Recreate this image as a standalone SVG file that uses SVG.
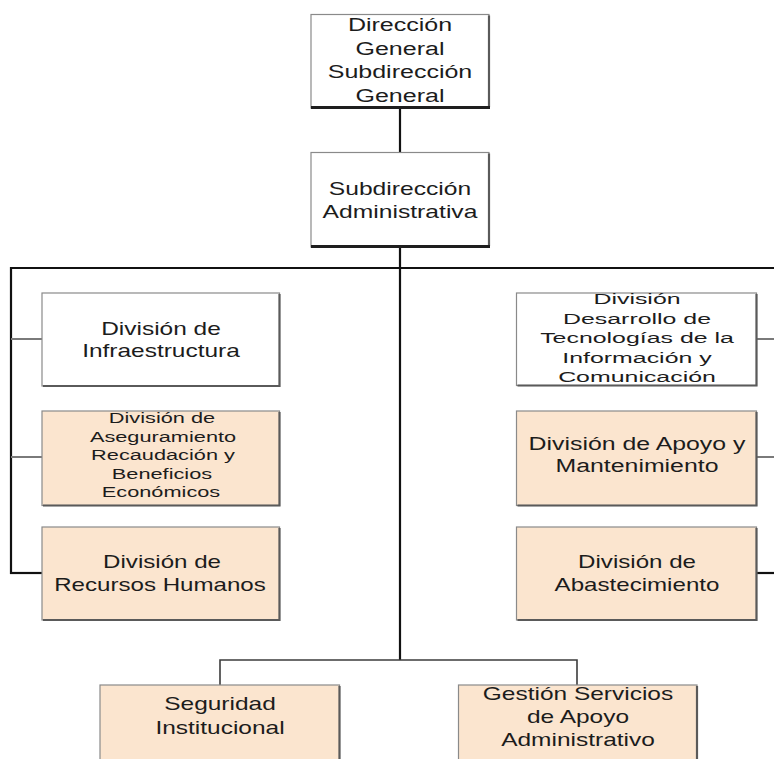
<svg xmlns="http://www.w3.org/2000/svg" width="774" height="759" viewBox="0 0 774 759">
  <style>
    .box { stroke: #8a8a8a; stroke-width: 1.2; }
    .w { fill: #ffffff; }
    .p { fill: #fbe5cf; }
    .sh { fill: none; stroke: #5a5a5a; stroke-width: 2.2; }
    .shk { fill: none; stroke: #1e1e1e; stroke-width: 3; }
    .t { font-family: "Liberation Sans", Arial, sans-serif; font-size: 18px; fill: #1c1c1c; text-anchor: middle; }
    .s { font-size: 15px; }
    .k { fill: none; stroke: #111111; stroke-width: 2.2; }
    .g { fill: none; stroke: #7a7a7a; stroke-width: 2; }
    .d { fill: none; stroke: #3c3c3c; stroke-width: 1.6; }
  </style>
  <rect width="774" height="759" fill="#ffffff"/>

  <!-- connectors -->
  <g id="connectors">
    <path class="k" d="M400 108 V152.5"/>
    <path class="k" d="M400 247 V660"/>
    <path class="k" d="M11 268 H774"/>
    <path class="k" d="M11 267 V574"/>
    <path class="g" d="M11 339 H42"/>
    <path class="g" d="M11 457 H42"/>
    <path class="k" d="M10 573 H42"/>
    <path class="g" d="M757 339 H774"/>
    <path class="g" d="M757 457 H774"/>
    <path class="k" d="M757 573 H774"/>
    <path class="d" d="M220 685 V660 H577 V685"/>
  </g>

  <!-- top management -->
  <g id="direccion-general">
    <rect class="box w" x="311" y="14.5" width="178" height="93.5"/>
    <path class="sh" d="M489 15.5 V107"/>
    <path class="shk" d="M311 107.5 H490"/>
    <text class="t" transform="translate(400 30.5) scale(1.39 1)">Dirección</text>
    <text class="t" transform="translate(400 54.5) scale(1.39 1)">General</text>
    <text class="t" transform="translate(400 78) scale(1.39 1)">Subdirección</text>
    <text class="t" transform="translate(400 101.5) scale(1.39 1)">General</text>
  </g>

  <g id="subdireccion-administrativa">
    <rect class="box w" x="311" y="152.5" width="178" height="94.5"/>
    <path class="sh" d="M489 153.5 V246"/>
    <path class="shk" d="M311 246.5 H490"/>
    <text class="t" transform="translate(400 195) scale(1.37 1)">Subdirección</text>
    <text class="t" transform="translate(400 217.5) scale(1.37 1)">Administrativa</text>
  </g>

  <!-- left column -->
  <g id="infraestructura">
    <rect class="box w" x="42" y="293" width="237.5" height="93"/>
    <path class="sh" d="M279.5 294 V386 H43"/>
    <text class="t" transform="translate(161 334.5) scale(1.36 1)">División de</text>
    <text class="t" transform="translate(161 356.5) scale(1.36 1)">Infraestructura</text>
  </g>

  <g id="aseguramiento">
    <rect class="box p" x="42" y="411" width="237.5" height="94.5"/>
    <path class="sh" d="M279.5 412 V505.5 H43"/>
    <text class="t s" transform="translate(162 422.5) scale(1.45 1)">División de</text>
    <text class="t s" transform="translate(163 441.5) scale(1.45 1)">Aseguramiento</text>
    <text class="t s" transform="translate(163 460) scale(1.45 1)">Recaudación y</text>
    <text class="t s" transform="translate(162 478.5) scale(1.45 1)">Beneficios</text>
    <text class="t s" transform="translate(161 497) scale(1.45 1)">Económicos</text>
  </g>

  <g id="recursos-humanos">
    <rect class="box p" x="42" y="527" width="237.5" height="93"/>
    <path class="sh" d="M279.5 528 V620 H43"/>
    <text class="t" transform="translate(162 567.5) scale(1.34 1)">División de</text>
    <text class="t" transform="translate(160 590.5) scale(1.34 1)">Recursos Humanos</text>
  </g>

  <!-- right column -->
  <g id="tecnologias">
    <rect class="box w" x="516.5" y="293" width="240" height="92.5"/>
    <path class="sh" d="M756.5 294 V385.5 H517.5"/>
    <text class="t s" transform="translate(637 304) scale(1.66 1)">División</text>
    <text class="t s" transform="translate(637 323.5) scale(1.66 1)">Desarrollo de</text>
    <text class="t s" transform="translate(637 343) scale(1.66 1)">Tecnologías de la</text>
    <text class="t s" transform="translate(637 362.5) scale(1.66 1)">Información y</text>
    <text class="t s" transform="translate(637 382) scale(1.66 1)">Comunicación</text>
  </g>

  <g id="apoyo-mantenimiento">
    <rect class="box p" x="516.5" y="411" width="240" height="94.5"/>
    <path class="sh" d="M756.5 412 V505.5 H517.5"/>
    <text class="t" transform="translate(637 450) scale(1.38 1)">División de Apoyo y</text>
    <text class="t" transform="translate(637 472) scale(1.38 1)">Mantenimiento</text>
  </g>

  <g id="abastecimiento">
    <rect class="box p" x="516.5" y="527" width="240" height="93"/>
    <path class="sh" d="M756.5 528 V620 H517.5"/>
    <text class="t" transform="translate(637 567.5) scale(1.34 1)">División de</text>
    <text class="t" transform="translate(637 590.5) scale(1.34 1)">Abastecimiento</text>
  </g>

  <!-- bottom row -->
  <g id="seguridad-institucional">
    <rect class="box p" x="100" y="685" width="239.5" height="90"/>
    <path class="sh" d="M339.5 686 V775"/>
    <text class="t" transform="translate(220 709.5) scale(1.36 1)">Seguridad</text>
    <text class="t" transform="translate(220 733.5) scale(1.36 1)">Institucional</text>
  </g>

  <g id="gestion-servicios">
    <rect class="box p" x="458.5" y="685" width="238.5" height="90"/>
    <path class="sh" d="M697 686 V775"/>
    <text class="t" transform="translate(578 700) scale(1.36 1)">Gestión Servicios</text>
    <text class="t" transform="translate(578 723) scale(1.36 1)">de Apoyo</text>
    <text class="t" transform="translate(578 746) scale(1.36 1)">Administrativo</text>
  </g>
</svg>
